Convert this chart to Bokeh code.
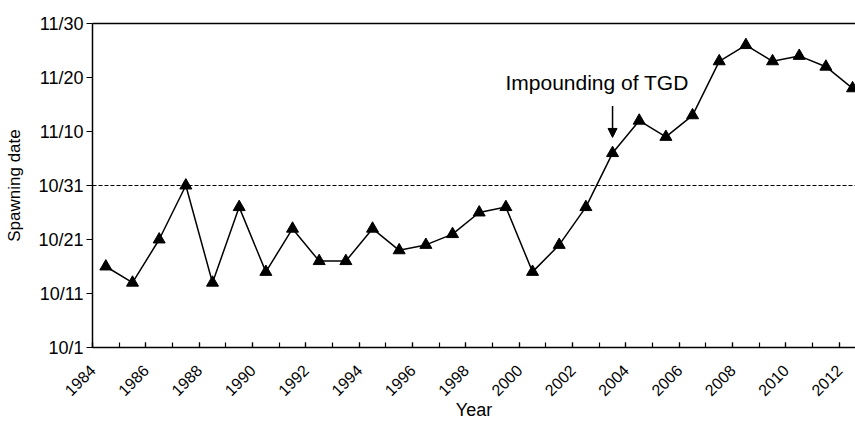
import math
from bokeh.plotting import figure
from bokeh.models import (ColumnDataSource, FixedTicker, LinearAxis, Span, Arrow,
                          NormalHead, Label, Range1d)
from bokeh.transform import dodge
from bokeh.embed import file_html
from bokeh.resources import INLINE

# Data: spawning date expressed as days after 1 October
years = list(range(1984, 2013))
spawn_days = [15, 12, 20, 30, 12, 26, 14, 22, 16, 16, 22, 18, 19, 21, 25, 26,
              14, 19, 26, 36, 42, 39, 43, 53, 56, 53, 54, 52, 48]

y_ticks = [0, 10, 20, 30, 40, 50, 60]
y_tick_labels = ["10/1", "10/11", "10/21", "10/31", "11/10", "11/20", "11/30"]
x_label_years = list(range(1984, 2013, 2))
x_minor_years = list(range(1984, 2013))

x_title = "Year"
y_title = "Spawning date"

threshold_day = 30          # 10/31 reference line
annot_text = "Impounding of TGD"
annot_year = 2002.92
annot_day = 49.0
arrow_year = 2003.5
arrow_from_day = 44.7
arrow_to_day = 38.9

FONT = "Liberation Sans"

src = ColumnDataSource(data=dict(year=years, day=spawn_days))

p = figure(width=855, height=423,
           x_range=Range1d(1984, 2012.61), y_range=Range1d(0, 60),
           output_backend="svg", toolbar_location=None,
           min_border_left=92, min_border_right=0,
           min_border_top=23, min_border_bottom=76)
p.outline_line_color = None
p.xgrid.visible = False
p.ygrid.visible = False
p.background_fill_color = "white"
p.border_fill_color = "white"

# x axis
xa = p.xaxis[0]
xa.ticker = FixedTicker(ticks=x_label_years, minor_ticks=x_minor_years)
xa.major_label_orientation = math.pi / 4
xa.major_tick_in = 5
xa.major_tick_out = 0
xa.minor_tick_in = 5
xa.minor_tick_out = 0
xa.axis_line_width = 1.5
xa.major_tick_line_width = 1.2
xa.minor_tick_line_width = 1.2
xa.axis_line_color = "black"
xa.major_tick_line_color = "black"
xa.minor_tick_line_color = "black"
xa.major_label_text_font = FONT
xa.major_label_text_font_size = "16px"
xa.major_label_text_color = "black"
xa.major_label_standoff = 20
xa.axis_label = x_title
xa.axis_label_text_font = FONT
xa.axis_label_text_font_size = "18px"
xa.axis_label_text_font_style = "normal"
xa.axis_label_text_color = "black"
xa.axis_label_standoff = -4

# y axis
ya = p.yaxis[0]
ya.ticker = FixedTicker(ticks=y_ticks, minor_ticks=[])
ya.major_label_overrides = {t: l for t, l in zip(y_ticks, y_tick_labels)}
ya.major_tick_in = 0
ya.major_tick_out = 6
ya.minor_tick_line_color = None
ya.axis_line_width = 1.5
ya.major_tick_line_width = 1.2
ya.axis_line_color = "black"
ya.major_tick_line_color = "black"
ya.major_label_text_font = FONT
ya.major_label_text_font_size = "18px"
ya.major_label_text_color = "black"
ya.major_label_standoff = 3
ya.axis_label = y_title
ya.axis_label_text_font = FONT
ya.axis_label_text_font_size = "17px"
ya.axis_label_text_font_style = "normal"
ya.axis_label_text_color = "black"
ya.axis_label_standoff = 11

# top border line
top = LinearAxis(ticker=FixedTicker(ticks=[], minor_ticks=[]),
                 major_label_text_font_size="0px",
                 axis_line_width=1.5, axis_line_color="black",
                 major_tick_line_color=None, minor_tick_line_color=None)
p.add_layout(top, "above")

# reference line at 10/31
p.add_layout(Span(location=threshold_day, dimension="width",
                  line_color="black", line_width=1, line_dash="4 2"))

# data
p.line(x=dodge("year", 0.5), y="day", source=src, line_color="black", line_width=1.5)
p.scatter(x=dodge("year", 0.5), y="day", source=src, marker="triangle", size=12,
          fill_color="black", line_color="black")

# annotation
p.add_layout(Label(x=annot_year, y=annot_day, text=annot_text,
                   text_font=FONT, text_font_size="21px", text_color="black",
                   text_align="center", text_baseline="alphabetic"))
p.add_layout(Arrow(x_start=arrow_year, y_start=arrow_from_day,
                   x_end=arrow_year, y_end=arrow_to_day,
                   line_color="black", line_width=1.5,
                   end=NormalHead(size=9, fill_color="black", line_color="black")))

open("out.html", "w").write(file_html(p, INLINE))
